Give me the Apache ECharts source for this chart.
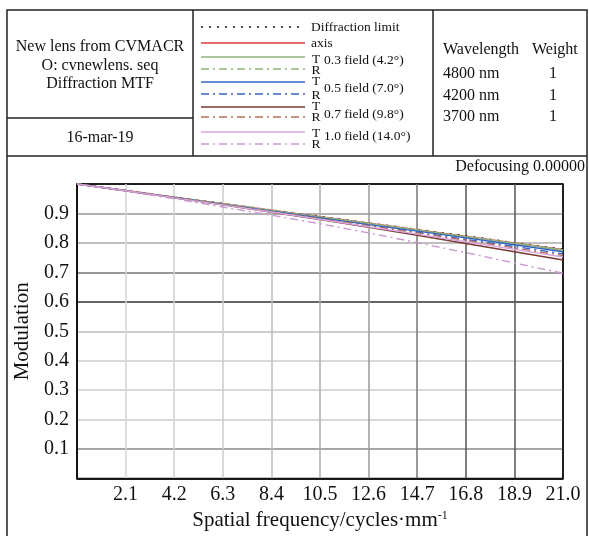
<!DOCTYPE html>
<html>
<head>
<meta charset="utf-8">
<script src="https://cdn.jsdelivr.net/npm/echarts@6/dist/echarts.min.js"></script>
<style>
  html, body { margin: 0; padding: 0; background: #fff; }
  #chart { width: 589px; height: 536px; }
</style>
</head>
<body>
<div id="chart"></div>
<script>
// spatial frequency (cycles/mm) and MTF readings
const freq = [0, 2.1, 4.2, 6.3, 8.4, 10.5, 12.6, 14.7, 16.8, 18.9, 21.0];
const diffLimit = [1.000, 0.978, 0.956, 0.934, 0.912, 0.890, 0.868, 0.846, 0.824, 0.801, 0.779];
const axisMtf   = [1.000, 0.978, 0.955, 0.933, 0.911, 0.889, 0.867, 0.845, 0.822, 0.800, 0.777];
const f03T      = [1.000, 0.977, 0.955, 0.933, 0.910, 0.888, 0.866, 0.844, 0.821, 0.799, 0.776];
const f03R      = [1.000, 0.977, 0.955, 0.932, 0.910, 0.887, 0.865, 0.843, 0.820, 0.798, 0.775];
const f05T      = [1.000, 0.977, 0.954, 0.931, 0.908, 0.885, 0.862, 0.840, 0.817, 0.794, 0.770];
const f05R      = [1.000, 0.977, 0.953, 0.930, 0.906, 0.883, 0.859, 0.836, 0.812, 0.788, 0.763];
const f07T      = [1.000, 0.977, 0.953, 0.929, 0.904, 0.879, 0.853, 0.826, 0.798, 0.770, 0.742];
const f07R      = [1.000, 0.977, 0.954, 0.930, 0.906, 0.882, 0.858, 0.834, 0.809, 0.783, 0.757];
const f10T      = [1.000, 0.977, 0.953, 0.929, 0.905, 0.880, 0.855, 0.830, 0.804, 0.778, 0.752];
const f10R      = [1.000, 0.976, 0.950, 0.922, 0.894, 0.865, 0.834, 0.801, 0.767, 0.732, 0.697];

const xTickLabels = ['2.1', '4.2', '6.3', '8.4', '10.5', '12.6', '14.7', '16.8', '18.9', '21.0'];
const yTickLabels = ['0.1', '0.2', '0.3', '0.4', '0.5', '0.6', '0.7', '0.8', '0.9'];

const headerLines = ['New lens from CVMACR', 'O: cvnewlens. seq', 'Diffraction MTF'];
const dateText = '16-mar-19';
const wavelengths = ['4800 nm', '4200 nm', '3700 nm'];
const weights = ['1', '1', '1'];
const fieldLabels = ['0.3 field (4.2°)', '0.5 field (7.0°)', '0.7 field (9.8°)', '1.0 field (14.0°)'];

const FONT = '"Liberation Serif", "Times New Roman", serif';
const dashDot = [8, 4, 2, 4];

const seriesDefs = [
  { name: 'Diffraction limit', data: diffLimit, color: '#111111', type: [2, 6] },
  { name: 'axis', data: axisMtf, color: '#e0383a', type: 'solid' },
  { name: '0.3 T', data: f03T, color: '#8db47a', type: 'solid' },
  { name: '0.3 R', data: f03R, color: '#8db47a', type: dashDot },
  { name: '0.5 T', data: f05T, color: '#3563c2', type: 'solid' },
  { name: '0.5 R', data: f05R, color: '#3563c2', type: dashDot },
  { name: '0.7 T', data: f07T, color: '#7a3a33', type: 'solid' },
  { name: '0.7 R', data: f07R, color: '#b8705e', type: dashDot },
  { name: '1.0 T', data: f10T, color: '#d8a6dc', type: 'solid' },
  { name: '1.0 R', data: f10R, color: '#c99ad0', type: dashDot }
];

// legend sample rows (y position of each sample line)
const legendRowY = [27, 43, 57, 69, 82, 94, 107, 117, 132, 144];

const chart = echarts.init(document.getElementById('chart'));

const graphics = [];
const stroke = { stroke: '#222', lineWidth: 1.5 };
graphics.push({ type: 'rect', shape: { x: 7, y: 10, width: 580, height: 540 }, style: { fill: 'none', ...stroke }, silent: true });
graphics.push({ type: 'line', shape: { x1: 7, y1: 156, x2: 587, y2: 156 }, style: stroke, silent: true });
graphics.push({ type: 'line', shape: { x1: 193, y1: 10, x2: 193, y2: 156 }, style: stroke, silent: true });
graphics.push({ type: 'line', shape: { x1: 433, y1: 10, x2: 433, y2: 156 }, style: stroke, silent: true });
graphics.push({ type: 'line', shape: { x1: 7, y1: 118, x2: 193, y2: 118 }, style: stroke, silent: true });

const txt = (x, y, text, size, align) => ({
  type: 'text', x, y, silent: true,
  style: { text, font: `${size}px ${FONT}`, fill: '#111', align: align || 'left', verticalAlign: 'middle' }
});

headerLines.forEach((t, i) => graphics.push(txt(100, 47 + i * 18.3, t, 16, 'center')));
graphics.push(txt(100, 138, dateText, 16, 'center'));

graphics.push(txt(443, 50, 'Wavelength', 16));
graphics.push(txt(532, 50, 'Weight', 16));
wavelengths.forEach((w, i) => {
  const y = [74, 96, 117][i];
  graphics.push(txt(443, y, w, 16));
  graphics.push(txt(553, y, weights[i], 16, 'center'));
});

seriesDefs.forEach((s, i) => {
  graphics.push({
    type: 'line', silent: true,
    shape: { x1: 201, y1: legendRowY[i], x2: 305, y2: legendRowY[i] },
    style: { stroke: s.color, lineWidth: 1.5, lineDash: Array.isArray(s.type) ? s.type : null }
  });
});
graphics.push(txt(311, 27, 'Diffraction limit', 13.5));
graphics.push(txt(311, 43, 'axis', 13.5));
const trY = [[59, 70], [81, 95], [106, 117], [133, 144]];
const labY = [60, 88, 114, 136];
fieldLabels.forEach((f, i) => {
  graphics.push(txt(316, trY[i][0], 'T', 13.5, 'center'));
  graphics.push(txt(316, trY[i][1], 'R', 13.5, 'center'));
  graphics.push(txt(324, labY[i], f, 13.5));
});
graphics.push(txt(585, 167, 'Defocusing 0.00000', 16, 'right'));

const option = {
  animation: false,
  backgroundColor: '#fff',
  textStyle: { fontFamily: FONT },
  grid: { left: 77, right: 26, top: 184, bottom: 49, show: true, borderColor: '#111', borderWidth: 1.5 },
  xAxis: {
    type: 'value', min: 0, max: 21, interval: 2.1,
    name: 'Spatial frequency/cycles·mm{sup|-1}',
    nameLocation: 'middle', nameGap: 29,
    nameTextStyle: {
      fontFamily: FONT, fontSize: 21, color: '#111',
      rich: { sup: { fontFamily: FONT, fontSize: 12, color: '#111', verticalAlign: 'top', padding: [0, 0, 10, 0] } }
    },
    axisLine: { lineStyle: { color: '#111', width: 1.5 } },
    axisTick: { show: false },
    axisLabel: {
      fontFamily: FONT, fontSize: 20, color: '#111', margin: 6,
      formatter: (v, i) => (i === 0 ? '' : xTickLabels[i - 1])
    },
    splitLine: {
      show: true,
      lineStyle: {
        width: 1.5,
        color: ['#111', '#d4d4d4', '#d0d0d0', '#cbcbcb', '#bdbdbd', '#adadad', '#9a9a9a', '#777', '#555', '#555', '#111']
      }
    }
  },
  yAxis: {
    type: 'value', min: 0, max: 1, interval: 0.1,
    name: 'Modulation', nameLocation: 'middle', nameGap: 42,
    nameTextStyle: { fontFamily: FONT, fontSize: 21, color: '#111' },
    axisLine: { show: true, lineStyle: { color: '#111', width: 1.5 } },
    axisTick: { show: false },
    axisLabel: {
      fontFamily: FONT, fontSize: 20, color: '#111', margin: 8,
      formatter: (v, i) => yTickLabels[i - 1] || ''
    },
    splitLine: {
      show: true,
      lineStyle: {
        width: 1.5,
        color: ['#111', '#8a8a8a', '#cdcdcd', '#cdcdcd', '#cdcdcd', '#bdbdbd', '#333', '#777', '#aaa', '#999', '#111']
      }
    }
  },
  graphic: graphics,
  series: seriesDefs.map(s => ({
    name: s.name,
    type: 'line',
    data: freq.map((f, i) => [f, s.data[i]]),
    showSymbol: false,
    silent: true,
    lineStyle: { color: s.color, width: 1.4, type: s.type }
  }))
};

chart.setOption(option);
</script>
</body>
</html>
